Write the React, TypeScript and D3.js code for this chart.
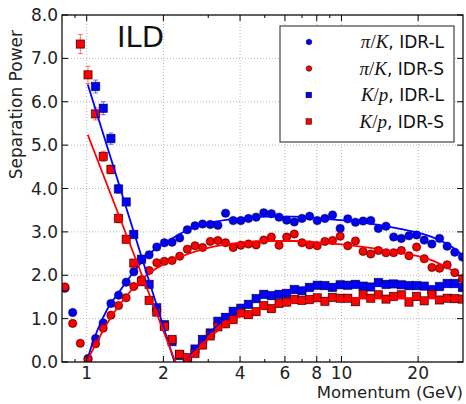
import * as d3 from "d3"

// momentum bins (GeV), shared by all four series
const momentum = [
  0.822, 0.881, 0.944,
  1.012, 1.084, 1.161, 1.245, 1.334, 1.429, 1.531, 1.641, 1.758, 1.884,
  2.018, 2.163, 2.317, 2.483, 2.661, 2.851, 3.055, 3.273, 3.508, 3.758,
  4.027, 4.315, 4.624, 4.955, 5.309, 5.689, 6.095, 6.531, 6.998, 7.499,
  8.035, 8.61, 9.226, 9.886, 10.59, 11.35, 12.16, 13.03, 13.96, 14.96,
  16.03, 17.18, 18.41, 19.72, 21.13, 22.65, 24.27, 26.0, 27.86, 29.85,
]

const piKLong = [
  1.7, 1.14, null,
  0.08, 0.54, 0.9, 1.35, 1.54, 1.84, 2.08, 2.36, 2.47, 2.65,
  2.75, 2.76, 2.86, 3.05, 3.14, 3.18, 3.17, 3.15, 3.43, 3.26,
  3.26, 3.31, 3.34, 3.44, 3.42, 3.34, 3.27, 3.23, 3.31, 3.36,
  3.26, 3.31, 3.39, 3.08, 3.3, 3.22, 3.25, 3.26, 3.08, 3.13,
  2.88, 2.85, 2.91, 2.93, 2.81, 2.72, 2.85, 2.67, 2.53, 2.42,
]
const piKShort = [
  1.73, 0.89, 0.43,
  0.06, 0.42, 0.78, 1.08, 1.3, 1.48, 1.74, 1.9, 2.11, 2.29,
  2.32, 2.34, 2.44, 2.6, 2.68, 2.64, 2.78, 2.8, 2.75, 2.64,
  2.69, 2.72, 2.7, 2.81, 2.88, 2.69, 2.88, 2.95, 2.75, 2.7,
  2.68, 2.78, 2.8, 2.9, 2.68, 2.79, 2.55, 2.49, 2.57, 2.52,
  2.52, 2.57, 2.45, 2.65, 2.38, 2.18, 2.16, 2.24, 2.06, 1.92,
]
const kpLong = [
  null, null, null,
  null, 6.35, 5.85, 5.15, 3.99, 3.69, 2.94, 2.37, 1.79, 1.25,
  0.86, 0.47, 0.15, 0.08, 0.3, 0.52, 0.67, 0.94, 1.03, 1.17,
  1.24, 1.33, 1.46, 1.56, 1.53, 1.56, 1.58, 1.67, 1.64, 1.72,
  1.77, 1.76, 1.72, 1.78, 1.77, 1.79, 1.75, 1.73, 1.83, 1.79,
  1.8, 1.78, 1.76, 1.76, 1.75, 1.66, 1.74, 1.81, 1.81, 1.72,
]
const kpShort = [
  null, null, 7.33,
  6.62, 5.72, 4.74, 4.44, 3.31, 2.83, 2.28, 1.85, 1.42, 1.15,
  0.82, 0.52, 0.18, 0.1, 0.2, 0.39, 0.6, 0.81, 0.88, 0.98,
  1.13, 1.09, 1.16, 1.3, 1.23, 1.35, 1.38, 1.44, 1.42, 1.44,
  1.48, 1.4, 1.49, 1.47, 1.47, 1.39, 1.55, 1.47, 1.55, 1.45,
  1.51, 1.55, 1.38, 1.51, 1.41, 1.56, 1.43, 1.47, 1.46, 1.45,
]
// visible error bars (only the first K/p bins have them)
const kpLongErr = [0, 0, 0, 0, 0.15, 0.15, 0.13, 0.1, 0.08]
const kpShortErr = [0, 0, 0.22, 0.2, 0.14, 0.12, 0.1, 0.1, 0.08]

// fitted curves
const fitPiKMomentum = [1.0, 1.05, 1.1, 1.2, 1.35, 1.5, 1.75, 2.0, 2.5, 3.0, 4.0, 5.0, 6.5, 8.0, 10, 13, 17, 20, 24, 27, 30]
const fitPiKLong = [0.0, 0.4, 0.72, 1.2, 1.64, 2.01, 2.48, 2.72, 3.05, 3.2, 3.31, 3.35, 3.35, 3.31, 3.27, 3.19, 3.07, 2.98, 2.82, 2.66, 2.45]
const fitPiKShort = [0.0, 0.25, 0.47, 0.88, 1.33, 1.66, 2.04, 2.25, 2.49, 2.63, 2.75, 2.79, 2.79, 2.76, 2.71, 2.63, 2.52, 2.44, 2.28, 2.12, 1.91]
const fitKpFallLongMomentum = [1.01, 2.21]
const fitKpFallLong = [6.4, 0]
const fitKpFallShortMomentum = [1.01, 2.23]
const fitKpFallShort = [5.24, 0]
const fitKpRiseMomentum = [2.45, 2.6, 2.8, 3.0, 3.3, 3.7, 4.2, 5.0, 6.0, 7.0, 8.5, 10, 13, 17, 22, 30]
const fitKpRiseLong = [0.0, 0.22, 0.45, 0.64, 0.88, 1.12, 1.33, 1.52, 1.64, 1.71, 1.75, 1.77, 1.77, 1.76, 1.75, 1.73]
const fitKpRiseShort = [0.0, 0.17, 0.36, 0.53, 0.74, 0.95, 1.1, 1.24, 1.34, 1.4, 1.44, 1.46, 1.47, 1.47, 1.47, 1.47]

const xTicks = [1, 2, 4, 6, 8, 10, 20]
const xMinorTicks = [0.9, 3, 5, 7, 9]
const yTicks = [0, 1, 2, 3, 4, 5, 6, 7, 8]

const BLUE = "#0000ff"
const RED = "#ff0000"
const SANS = "'DejaVu Sans', sans-serif"
const SERIF = "'Liberation Serif', 'DejaVu Serif', serif"

export default function App() {
  const width = 466
  const height = 404
  const margin = { top: 15, right: 3, bottom: 42, left: 62 }
  const innerW = width - margin.left - margin.right
  const innerH = height - margin.top - margin.bottom

  const x = d3.scaleLog().domain([0.8, 30]).range([0, innerW])
  const y = d3.scaleLinear().domain([0, 8]).range([innerH, 0])

  const series = [
    { a: "π", b: "K", tag: "IDR-L", values: piKLong, err: [] as number[], shape: "circle", color: BLUE },
    { a: "π", b: "K", tag: "IDR-S", values: piKShort, err: [] as number[], shape: "circle", color: RED },
    { a: "K", b: "p", tag: "IDR-L", values: kpLong, err: kpLongErr, shape: "square", color: BLUE },
    { a: "K", b: "p", tag: "IDR-S", values: kpShort, err: kpShortErr, shape: "square", color: RED },
  ]

  const fits = [
    { p: fitPiKMomentum, v: fitPiKLong, color: BLUE },
    { p: fitPiKMomentum, v: fitPiKShort, color: RED },
    { p: fitKpFallLongMomentum, v: fitKpFallLong, color: BLUE },
    { p: fitKpFallShortMomentum, v: fitKpFallShort, color: RED },
    { p: fitKpRiseMomentum, v: fitKpRiseLong, color: BLUE },
    { p: fitKpRiseMomentum, v: fitKpRiseShort, color: RED },
  ]

  const line = d3
    .line<[number, number]>()
    .x((d) => x(d[0]))
    .y((d) => y(d[1]))
    .curve(d3.curveMonotoneX)

  const gridColor = "#b8b8b8"
  const legend = { x: 218, y: 11, w: 174, h: 116 }

  return (
    <svg
      width={width}
      height={height}
      style={{ position: "absolute", left: 0, top: 0, background: "#fff" }}
      fontFamily={SANS}
    >
      <defs>
        <clipPath id="plot-clip">
          <rect x={0} y={0} width={innerW} height={innerH} />
        </clipPath>
      </defs>
      <g transform={`translate(${margin.left},${margin.top})`}>
        {/* grid */}
        {yTicks.map((t) => (
          <line key={`gy${t}`} x1={0} x2={innerW} y1={y(t)} y2={y(t)} stroke={gridColor} strokeDasharray="1,2" />
        ))}
        {xTicks.map((t) => (
          <line key={`gx${t}`} x1={x(t)} x2={x(t)} y1={0} y2={innerH} stroke={gridColor} strokeDasharray="1,2" />
        ))}

        <g clipPath="url(#plot-clip)">
          {/* error bars */}
          {series.map((s, si) =>
            s.err.map((e, i) => {
              const v = s.values[i]
              if (!e || v == null) return null
              const cx = x(momentum[i])
              return (
                <g key={`e${si}-${i}`} stroke={s.color} strokeOpacity={0.55} strokeWidth={1}>
                  <line x1={cx} x2={cx} y1={y(v + e)} y2={y(v - e)} />
                  <line x1={cx - 2.5} x2={cx + 2.5} y1={y(v + e)} y2={y(v + e)} />
                  <line x1={cx - 2.5} x2={cx + 2.5} y1={y(v - e)} y2={y(v - e)} />
                </g>
              )
            })
          )}

          {/* points */}
          {series.map((s, si) =>
            s.values.map((v, i) => {
              if (v == null) return null
              const cx = x(momentum[i])
              const cy = y(v)
              return s.shape === "circle" ? (
                <g key={`p${si}-${i}`}>
                  <circle cx={cx} cy={cy} r={5} fill={s.color} opacity={0.2} />
                  <circle cx={cx} cy={cy} r={4} fill={s.color} stroke="#000" strokeWidth={0.6} />
                </g>
              ) : (
                <g key={`p${si}-${i}`}>
                  <rect x={cx - 5} y={cy - 5} width={10} height={10} fill={s.color} opacity={0.2} />
                  <rect x={cx - 4} y={cy - 4} width={8} height={8} fill={s.color} stroke="#000" strokeWidth={0.6} />
                </g>
              )
            })
          )}

          {/* fits */}
          {fits.map((f, i) => (
            <path
              key={`f${i}`}
              d={line(f.p.map((p, j) => [p, f.v[j]] as [number, number])) ?? ""}
              fill="none"
              stroke={f.color}
              strokeWidth={1.8}
            />
          ))}
        </g>

        {/* frame */}
        <rect x={0} y={0} width={innerW} height={innerH} fill="none" stroke="#000" strokeWidth={1.2} />

        {/* y ticks, left and right */}
        {yTicks.map((t) => (
          <g key={`ty${t}`}>
            <line x1={0} x2={6} y1={y(t)} y2={y(t)} stroke="#000" />
            <line x1={innerW - 6} x2={innerW} y1={y(t)} y2={y(t)} stroke="#000" />
            <text x={-4} y={y(t)} dy="0.36em" textAnchor="end" fontSize={17} fill="#222">
              {d3.format(".1f")(t)}
            </text>
          </g>
        ))}

        {/* x ticks */}
        {xTicks.map((t) => (
          <g key={`tx${t}`}>
            <line x1={x(t)} x2={x(t)} y1={innerH} y2={innerH - 6} stroke="#000" />
            <line x1={x(t)} x2={x(t)} y1={0} y2={6} stroke="#000" />
            <text x={x(t)} y={innerH + 17} textAnchor="middle" fontSize={17} fill="#222">
              {t}
            </text>
          </g>
        ))}
        {xMinorTicks.map((t) => (
          <g key={`tm${t}`}>
            <line x1={x(t)} x2={x(t)} y1={innerH} y2={innerH - 3} stroke="#000" />
            <line x1={x(t)} x2={x(t)} y1={0} y2={3} stroke="#000" />
          </g>
        ))}

        {/* axis titles */}
        <text x={innerW} y={innerH + 36} textAnchor="end" fontSize={16.5} fill="#222">
          Momentum (GeV)
        </text>
        <text
          transform={`translate(${-40},${15}) rotate(-90)`}
          textAnchor="end"
          fontSize={17}
          fill="#222"
        >
          Separation Power
        </text>

        <text x={55} y={32} fontSize={29} fill="#111">
          ILD
        </text>

        {/* legend */}
        <g transform={`translate(${legend.x},${legend.y})`}>
          <rect x={0} y={0} width={legend.w} height={legend.h} fill="#fff" stroke="#444" strokeWidth={1.2} />
          {series.map((s, i) => {
            const cy = 16 + i * 26.5
            return (
              <g key={`l${i}`}>
                {s.shape === "circle" ? (
                  <circle cx={29} cy={cy} r={2.8} fill={s.color} stroke="#000" strokeWidth={0.5} />
                ) : (
                  <rect x={26} y={cy - 2.8} width={5.6} height={5.6} fill={s.color} stroke="#000" strokeWidth={0.5} />
                )}
                <text x={legend.w - 10} y={cy + 6} textAnchor="end" fontSize={17} fill="#111">
                  <tspan fontFamily={SERIF} fontStyle="italic" fontSize={19}>{s.a}</tspan>
                  <tspan fontFamily={SERIF} fontSize={19}>/</tspan>
                  <tspan fontFamily={SERIF} fontStyle="italic" fontSize={19}>{s.b}</tspan>
                  <tspan>, {s.tag}</tspan>
                </text>
              </g>
            )
          })}
        </g>
      </g>
    </svg>
  )
}
